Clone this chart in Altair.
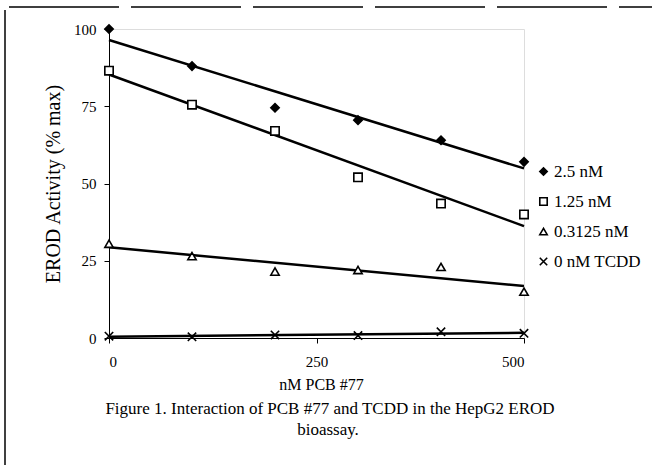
import altair as alt
import pandas as pd

# ---- data ----
pcb_nm = [0, 100, 200, 300, 400, 500]
series_names = ["2.5 nM", "1.25 nM", "0.3125 nM", "0 nM TCDD"]
erod_2_5 = [100, 88, 74.5, 70.5, 64, 57]
erod_1_25 = [86.5, 75.5, 67, 52, 43.5, 40]
erod_0_3125 = [30.5, 26.5, 21.5, 22, 23, 15]
erod_0 = [0.6, 0.4, 1.0, 0.8, 2.0, 1.5]

x_ticks = [0, 250, 500]
y_ticks = [0, 25, 50, 75, 100]

caption_1 = "Figure 1.  Interaction of PCB #77 and TCDD in the HepG2 EROD"
caption_2 = "bioassay."

rows = []
for name, vals in zip(series_names, [erod_2_5, erod_1_25, erod_0_3125, erod_0]):
    for xv, yv in zip(pcb_nm, vals):
        rows.append({"pcb": xv, "erod": yv, "series": name})
df = pd.DataFrame(rows)

FONT = "Liberation Serif"
XPATH = "M-1,-1L1,1M-1,1L1,-1"

x_enc = alt.X(
    "pcb:Q",
    scale=alt.Scale(domain=[0, 500], nice=False, zero=False),
    axis=alt.Axis(
        values=x_ticks, title="nM PCB #77", grid=False,
        domainColor="black", domainWidth=1, tickColor="black", tickSize=5,
        labelPadding=11, labelFontSize=15, labelFont=FONT, labelColor="black",
        titleFont=FONT, titleFontSize=16, titleFontWeight="normal",
        titleColor="black", titlePadding=7, titleX=212,
    ),
)
y_enc = alt.Y(
    "erod:Q",
    scale=alt.Scale(domain=[0, 100], nice=False),
    axis=alt.Axis(
        values=y_ticks, title="EROD Activity (% max)", grid=False,
        domainColor="black", domainWidth=1, tickColor="black", tickSize=5,
        labelPadding=8, labelFontSize=15, labelFont=FONT, labelColor="black",
        titleFont=FONT, titleFontSize=20, titleFontWeight="normal",
        titleColor="black", titlePadding=10,
    ),
)

lines = alt.Chart(df).transform_regression(
    "pcb", "erod", groupby=["series"]
).mark_line(color="black", strokeWidth=2.5).encode(
    x=alt.X("pcb:Q"), y=alt.Y("erod:Q"), detail="series:N"
)

legend = alt.Legend(
    title=None, orient="none", legendX=426, legendY=134,
    labelFont=FONT, labelFontSize=17, labelColor="black", labelOffset=2,
    rowPadding=12, symbolStrokeWidth=1.6, symbolSize=55,
)

points = alt.Chart(df).mark_point(size=70, strokeWidth=1.6, opacity=1).encode(
    x=x_enc,
    y=y_enc,
    shape=alt.Shape(
        "series:N",
        scale=alt.Scale(domain=series_names, range=["diamond", "square", "triangle-up", XPATH]),
        legend=legend,
    ),
    fill=alt.Fill(
        "series:N",
        scale=alt.Scale(domain=series_names, range=["black", "white", "white", "white"]),
        legend=legend,
    ),
    stroke=alt.Stroke(
        "series:N",
        scale=alt.Scale(domain=series_names, range=["black", "black", "black", "black"]),
        legend=legend,
    ),
)

frame_df = pd.DataFrame({"k": [0]})
left_frame = alt.Chart(frame_df).mark_rule(color="black", strokeWidth=1.5).encode(
    x=alt.value(-104), y=alt.value(-19), y2=alt.value(436)
)
top_frame = alt.Chart(frame_df).mark_rule(color="black", strokeWidth=1.5, strokeDash=[110, 12]).encode(
    y=alt.value(-22), x=alt.value(-100), x2=alt.value(543)
)
cap1 = alt.Chart(frame_df).mark_text(font=FONT, fontSize=17, color="black", align="center", baseline="middle").encode(
    x=alt.value(221), y=alt.value(380), text=alt.value(caption_1)
)
cap2 = alt.Chart(frame_df).mark_text(font=FONT, fontSize=17, color="black", align="center", baseline="middle").encode(
    x=alt.value(219), y=alt.value(401), text=alt.value(caption_2)
)

chart = alt.layer(lines, points, left_frame, top_frame, cap1, cap2).properties(
    width=415,
    height=309,
    autosize=alt.AutoSizeParams(type="none"),
    padding={"left": 109, "top": 29, "right": 128, "bottom": 127},
).configure_view(stroke=None).configure(background="white")

chart.save("out.html", embed_options={"renderer": "svg", "actions": False})
